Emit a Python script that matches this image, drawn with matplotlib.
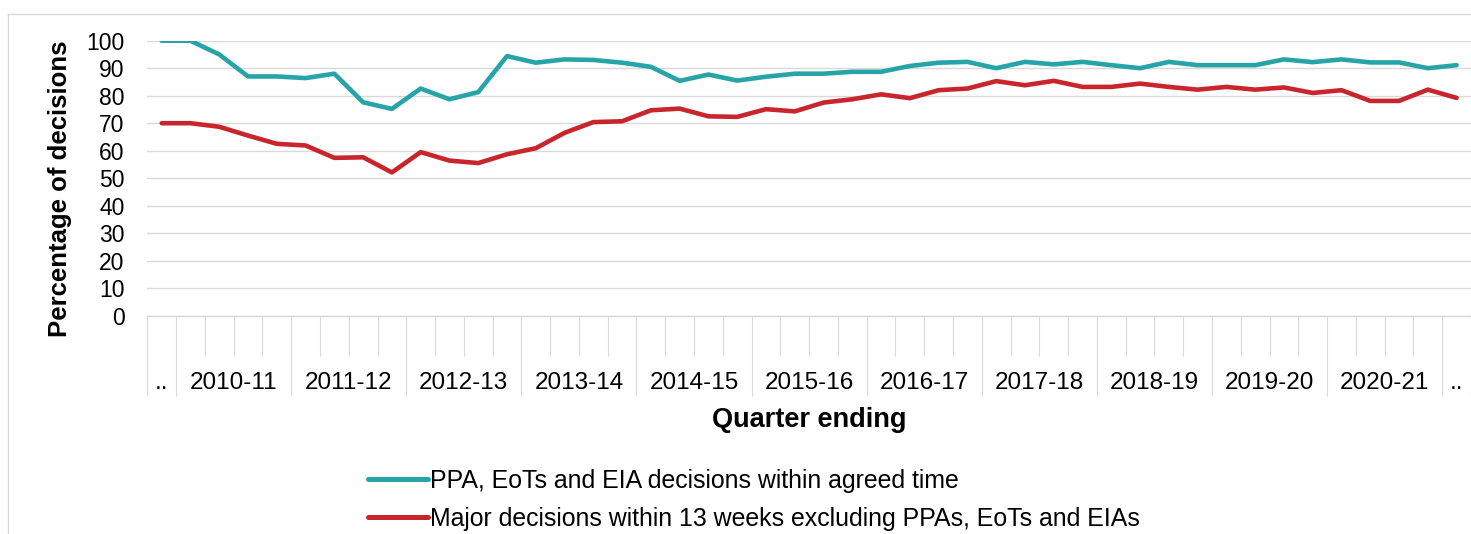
import matplotlib
matplotlib.use('Agg')
import matplotlib.pyplot as plt
from matplotlib.lines import Line2D
import numpy as np

plt.rcParams['font.family'] = ['Liberation Sans', 'DejaVu Sans']

# category labels on the x axis (one slot each for the two '..' quarters)
year_labels = ['2010-11', '2011-12', '2012-13', '2013-14', '2014-15', '2015-16',
               '2016-17', '2017-18', '2018-19', '2019-20', '2020-21']
edge_label = '..'

# quarterly percentages
ppa_within_time = [100, 100, 95, 87, 87, 86.4, 88, 77.6, 75.2, 82.6, 78.7, 81.3,
                   94.4, 92, 93.2, 93, 92, 90.5, 85.4, 87.7, 85.5, 86.9, 88, 88,
                   88.7, 88.7, 90.8, 92, 92.3, 90, 92.3, 91.4, 92.3, 91.1, 90, 92.3,
                   91.1, 91.1, 91.1, 93.2, 92.2, 93.2, 92.1, 92.1, 90, 91.1]
major_within_13wk = [70, 70, 68.7, 65.5, 62.5, 61.9, 57.4, 57.6, 52.1, 59.5, 56.4, 55.5,
                     58.7, 60.9, 66.5, 70.4, 70.7, 74.7, 75.3, 72.5, 72.3, 75.1, 74.3, 77.5,
                     78.7, 80.5, 79.1, 82, 82.6, 85.3, 83.8, 85.4, 83.2, 83.2, 84.4, 83.2,
                     82.2, 83.2, 82.2, 83, 81, 82, 78.1, 78.1, 82.2, 79.2]

series_names = ['PPA, EoTs and EIA decisions within agreed time',
                'Major decisions within 13 weeks excluding PPAs, EoTs and EIAs']

TEAL = '#27a4a7'
RED = '#c9252c'
GRID = '#d9d9d9'


def plot_chart():
    fig = plt.figure(figsize=(14.71, 5.34), dpi=100)
    ax = fig.add_axes([147.3 / 1471, 1 - 315.7 / 534, 1 - 147.3 / 1471, 275.0 / 534])

    n = len(ppa_within_time)
    x = np.arange(n)
    ax.plot(x, ppa_within_time, color=TEAL, lw=3.3, solid_capstyle='round',
            solid_joinstyle='round', label=series_names[0], zorder=3)
    ax.plot(x, major_within_13wk, color=RED, lw=3.3, solid_capstyle='round',
            solid_joinstyle='round', label=series_names[1], zorder=3)

    ax.set_xlim(-0.5, n - 0.5)
    ax.set_ylim(0, 100)
    ax.set_yticks(np.arange(0, 101, 10))
    ax.yaxis.grid(True, color=GRID, lw=1.0)
    ax.set_axisbelow(True)
    ax.tick_params(axis='y', length=0, pad=16.5, labelsize=16.5)

    for side in ['top', 'right', 'left']:
        ax.spines[side].set_visible(False)
    ax.spines['bottom'].set_color(GRID)
    ax.spines['bottom'].set_linewidth(1.0)

    # year boundaries get long ticks, quarter boundaries short ones
    n_years = len(year_labels)
    major_pos = [-0.5] + [0.5 + 4 * k for k in range(n_years + 1)] + [n - 0.5]
    ax.set_xticks(major_pos)
    ax.set_xticks(np.arange(-0.5, n, 1.0), minor=True)
    ax.tick_params(axis='x', which='major', length=57.6, width=0.8, color=GRID,
                   labelbottom=False)
    ax.tick_params(axis='x', which='minor', length=28.8, width=0.8, color=GRID)

    trans = ax.get_xaxis_transform()
    label_y = -0.2465
    ax.text(0, label_y, edge_label, transform=trans, ha='center', va='center', fontsize=17.5)
    for k, lab in enumerate(year_labels):
        ax.text(2.5 + 4 * k, label_y, lab, transform=trans, ha='center', va='center',
                fontsize=17.5)
    ax.text(n - 1, label_y, edge_label, transform=trans, ha='center', va='center',
            fontsize=17.5)

    ax.set_xlabel('Quarter ending', fontsize=19.5, fontweight='bold')
    ax.xaxis.set_label_coords(0.5, -0.332)
    ax.set_ylabel('Percentage of decisions', fontsize=18.5, fontweight='bold')
    ax.yaxis.set_label_coords(-0.0569, 0.461)

    leg = fig.legend(loc='center left', bbox_to_anchor=(368 / 1471, 1 - 500 / 534),
                     frameon=False, fontsize=17.9, handlelength=2.4, handletextpad=0.1,
                     borderpad=0, borderaxespad=0, labelspacing=0.55)
    for h in leg.get_lines():
        h.set_linewidth(3.6)

    # chart area border (only left and top edges fall inside the picture)
    fig.add_artist(Line2D([8 / 1471, 8 / 1471], [0, 1 - 14 / 534], color=GRID, lw=1.0,
                          transform=fig.transFigure))
    fig.add_artist(Line2D([8 / 1471, 1], [1 - 14 / 534, 1 - 14 / 534], color=GRID, lw=1.0,
                          transform=fig.transFigure))

    fig.savefig('out.png', dpi=100)


def main():
    plot_chart()


if __name__ == '__main__':
    main()
